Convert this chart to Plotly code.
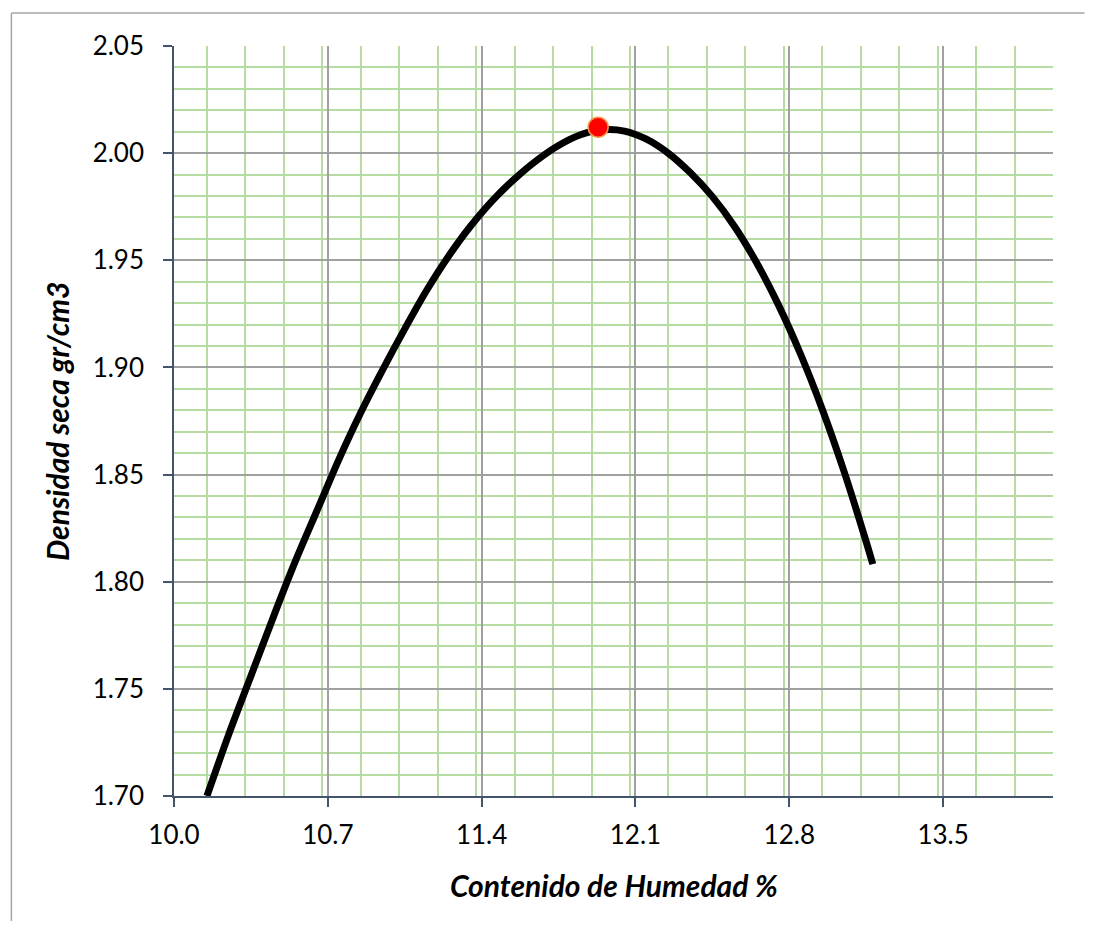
import plotly.graph_objects as go

# Fitted compaction curve (evenly spaced in x)
curve_x = [10.15, 10.25, 10.35, 10.45, 10.55, 10.65, 10.75, 10.85, 10.95, 11.05,
           11.15, 11.25, 11.35, 11.45, 11.55, 11.65, 11.75, 11.85, 11.95, 12.05,
           12.15, 12.25, 12.35, 12.45, 12.55, 12.65, 12.75, 12.85, 12.95, 13.05,
           13.15, 13.18]
curve_y = [1.700, 1.729, 1.756, 1.783, 1.809, 1.833, 1.857, 1.879, 1.899, 1.918,
           1.936, 1.952, 1.966, 1.978, 1.988, 1.9966, 2.0036, 2.0086, 2.0109, 2.0103,
           2.0065, 1.9999, 1.9908, 1.9797, 1.9659, 1.9491, 1.9293, 1.9065, 1.8805, 1.8512,
           1.8186, 1.8082]

# Maximum dry density point
max_x = [11.93]
max_y = [2.0121]

x_title = "Contenido de Humedad %"
y_title = "Densidad seca gr/cm3"

FONT = "Lato"
AXIS_COLOR = "#44546a"
MAJOR_GRID = "#a0a0a0"
MINOR_GRID = "#b7dca3"
BORDER = "#a6a6a6"

fig = go.Figure()
fig.add_trace(go.Scatter(
    x=curve_x, y=curve_y, mode="lines",
    line=dict(color="#000000", width=7, shape="spline", smoothing=0.8),
    hoverinfo="skip", showlegend=False,
))
fig.add_trace(go.Scatter(
    x=max_x, y=max_y, mode="markers",
    marker=dict(color="#ff0000", size=20, line=dict(color="#f79646", width=1.5)),
    showlegend=False,
))

fig.update_layout(
    width=1081, height=913,
    margin=dict(l=166, r=36, t=38, b=125),
    paper_bgcolor="#ffffff", plot_bgcolor="#ffffff",
    font=dict(family=FONT, size=26, color="#000000"),
    xaxis=dict(
        range=[10.0, 14.0], tick0=10.0, dtick=0.7, tickformat=".1f",
        showline=True, linecolor=AXIS_COLOR, linewidth=1.5,
        ticks="outside", ticklen=9, tickcolor=AXIS_COLOR, tickwidth=1.5,
        ticklabelstandoff=6,
        showgrid=True, gridcolor=MAJOR_GRID, gridwidth=1.5,
        minor=dict(dtick=0.175, showgrid=True, gridcolor=MINOR_GRID, gridwidth=1.5, ticks=""),
        zeroline=False,
        tickfont=dict(family=FONT, size=26, color="#000000"),
    ),
    yaxis=dict(
        range=[1.70, 2.05], tick0=1.70, dtick=0.05, tickformat=".2f",
        showline=True, linecolor=AXIS_COLOR, linewidth=1.5,
        ticks="outside", ticklen=9, tickcolor=AXIS_COLOR, tickwidth=1.5,
        ticklabelstandoff=14,
        showgrid=True, gridcolor=MAJOR_GRID, gridwidth=1.5,
        minor=dict(dtick=0.01, showgrid=True, gridcolor=MINOR_GRID, gridwidth=1.5, ticks=""),
        zeroline=False,
        tickfont=dict(family=FONT, size=26, color="#000000"),
    ),
    annotations=[
        dict(text="<b><i>" + x_title + "</i></b>", xref="paper", yref="paper",
             x=0.5, y=-0.119, xanchor="center", yanchor="middle", showarrow=False,
             font=dict(family=FONT, size=30, color="#000000")),
        dict(text="<b><i>" + y_title + "</i></b>", xref="paper", yref="paper",
             x=-0.133, y=0.5, xanchor="center", yanchor="middle", showarrow=False,
             textangle=-90, font=dict(family=FONT, size=30, color="#000000")),
    ],
    shapes=[
        dict(type="line", xref="paper", yref="paper",
             x0=-0.185, x1=1.036, y0=1.044, y1=1.044,
             line=dict(color=BORDER, width=1.5), layer="below"),
        dict(type="line", xref="paper", yref="paper",
             x0=-0.185, x1=-0.185, y0=-0.5, y1=1.044,
             line=dict(color=BORDER, width=1.5), layer="below"),
    ],
)

fig.write_html("out.html")
